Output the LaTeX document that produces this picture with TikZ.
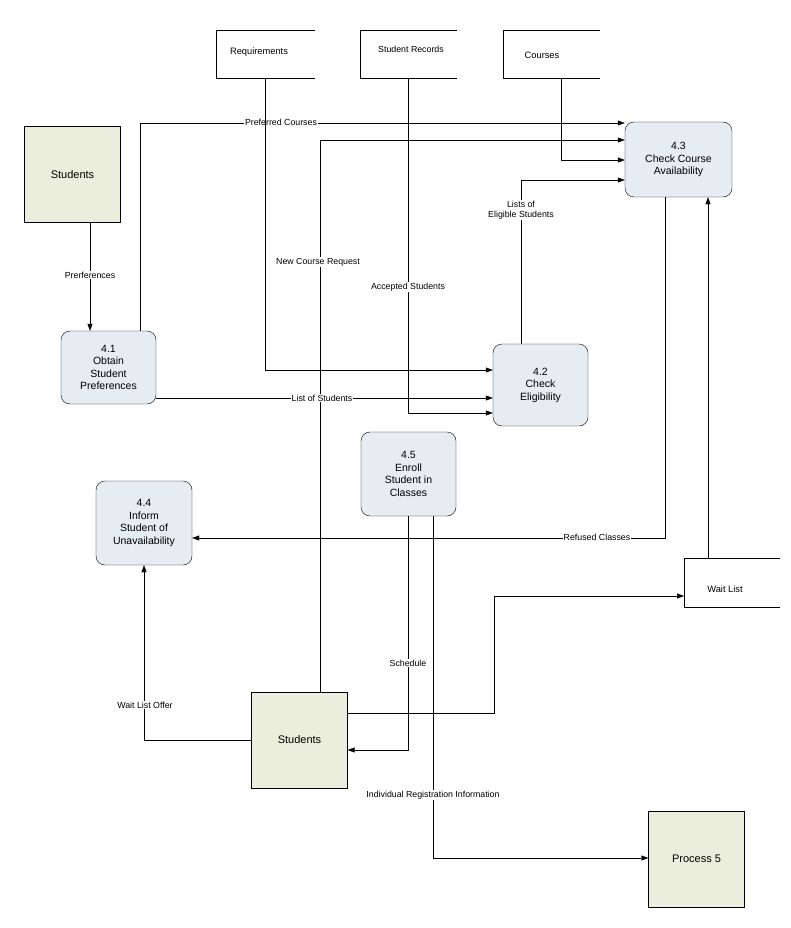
\documentclass[tikz,border=0pt]{standalone}
\usepackage{fontspec}
\setmainfont{Liberation Sans}
\usetikzlibrary{arrows.meta}
\begin{document}
\begin{tikzpicture}[x=1pt,y=-1pt,
  ext/.style={draw,fill=ext,minimum width=96pt,minimum height=96pt,font=\fontsize{11}{13}\selectfont},
  proc/.style={draw,rounded corners=9pt,fill=procc,align=center,font=\fontsize{10.5}{12.5}\selectfont},
  lab/.style={fill=white,inner sep=1pt,font=\fontsize{8.8}{10.5}\selectfont,align=center},
  arr/.style={draw,-{Triangle[length=7pt,width=5pt]}},
  sto/.style={font=\fontsize{9.3}{11}\selectfont}]
\definecolor{ext}{HTML}{EBEEDD}
\definecolor{procc}{HTML}{E6EDF2}
\useasboundingbox (0,0) rectangle (790,928);
% stores
\draw (315,30) -- (216,30) -- (216,78) -- (315,78);
\node[sto] (req) at (259,52) {Requirements};
\draw (457,30) -- (360,30) -- (360,78) -- (457,78);
\node[sto,font=\fontsize{8.8}{10}\selectfont] (rec) at (411,49) {Student Records};
\draw (600,30) -- (503,30) -- (503,78) -- (600,78);
\node[sto] (cou) at (542,55) {Courses};
\draw (780,558) -- (684,558) -- (684,607) -- (780,607);
\node[sto] (wl) at (725,589) {Wait List};
\coordinate (reqb) at (265,78);
\coordinate (recb) at (408,78);
\coordinate (coub) at (561,78);
\coordinate (wlt) at (708,558);
\coordinate (wll) at (684,596);
% externals
\node[ext] (s1) at (72.5,174.5) {Students};
\node[ext] (s2) at (299.5,740) {Students};
\node[ext] (p5) at (696.5,859) {Process 5};
% processes
\node[proc,minimum width=95pt,minimum height=73pt] (p41) at (108.5,367.5) {4.1\\Obtain\\Student\\Preferences};
\node[proc,minimum width=95pt,minimum height=82pt] (p42) at (540.5,385) {4.2\\Check\\Eligibility};
\node[proc,minimum width=107pt,minimum height=75pt] (p43) at (678.5,159.5) {4.3\\Check Course\\Availability};
\node[proc,minimum width=96pt,minimum height=84pt] (p44) at (144,523) {4.4\\Inform\\Student of\\Unavailability};
\node[proc,minimum width=95pt,minimum height=84pt] (p45) at (408.5,474) {4.5\\Enroll\\Student in\\Classes};
% connectors
\draw[arr] (s1.south -| 90,0) -- (p41.north -| 90,0);
\node[lab] (l1) at (90,275) {Prerferences};
\draw[arr] (p41.north -| 140,0) |- (p43.west |- 0,123);
\node[lab] (l2) at (281,122) {Preferred Courses};
\draw[arr] (s2.north -| 320,0) |- (p43.west |- 0,140);
\draw[arr] (coub) |- (p43.west |- 0,160);
\draw[arr] (p42.north -| 521,0) |- (p43.west |- 0,180);
\node[lab] (l3) at (521,210) {Lists of\\Eligible Students};
\draw[arr] (reqb) |- (p42.west |- 0,370);
\node[lab] (l4) at (318,262) {New Course Request};
\draw[arr] (p41.east |- 0,398) -- (p42.west |- 0,398);
\node[lab] (l5) at (322,398) {List of Students};
\draw[arr] (recb) |- (p42.west |- 0,413);
\node[lab] (l6) at (408,287) {Accepted Students};
\draw[arr] (p43.south -| 665,0) |- (p44.east |- 0,538);
\node[lab] (l7) at (597,537) {Refused Classes};
\draw[arr] (wlt) -- (p43.south -| 708,0);
\draw[arr] (s2.east |- 0,713) -| (494,596) -- (wll);
\draw[arr] (s2.west) -| (p44.south);
\node[lab] (l8) at (145,705) {Wait List Offer};
\draw[arr] (p45.south -| 408,0) |- (s2.east |- 0,750);
\node[lab] (l9) at (408,663) {Schedule};
\draw[arr] (p45.south -| 433,0) |- (p5.west |- 0,858);
\node[lab] (l10) at (433,795) {Individual Registration Information};
\end{tikzpicture}
\end{document}
